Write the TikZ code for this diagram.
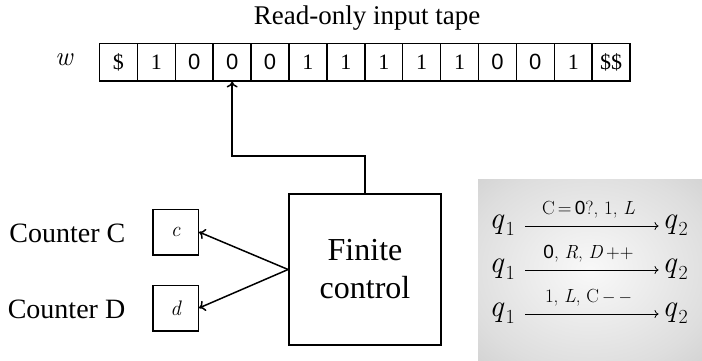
\documentclass[tikz,border=0pt]{standalone}
\usepackage{fontspec}
\newfontfamily\serifbig{Liberation Serif}
\newfontfamily\zerofont{Liberation Sans}
\usetikzlibrary{arrows.meta}
\newcommand\zr{{\zerofont 0}}
% state name with a lowered index, set in text italics so that it scales freely
\newcommand\stname[1]{\textit{q}\kern0.04em\raisebox{-0.22em}{\fontsize{20}{20}\selectfont #1}}
\pgfdeclareradialshading{panelglow}{\pgfpoint{0bp}{0bp}}{color(0bp)=(gray!5); color(28bp)=(gray!26); color(50bp)=(gray!48)}
\begin{document}
\begin{tikzpicture}[x=1pt,y=-1pt,line width=1.5pt,
  cell/.style={draw, minimum width=37.9pt, minimum height=37.5pt, inner sep=0pt,
    font=\serifbig\fontsize{22}{22}\selectfont},
  cbox/.style={draw, minimum size=45.5pt, inner sep=0pt, font=\fontsize{21}{21}\selectfont\itshape},
  bigtext/.style={font=\serifbig\fontsize{28}{28}\selectfont, inner sep=0pt},
  ctrl/.style={draw, line width=1.8pt, minimum width=152pt, minimum height=151pt, align=center,
    font=\serifbig\fontsize{32}{38}\selectfont},
  ptr/.style={-{To[length=6pt,width=11pt]}},
  qstate/.style={font=\fontsize{31}{31}\selectfont, inner sep=1pt, text height=0.5em, text depth=0pt},
  tarrow/.style={line width=0.8pt, -{To[length=4pt,width=8pt]}, shorten <=9pt, shorten >=2pt},
  tlabel/.style={font=\fontsize{19}{19}\selectfont, inner sep=0pt, anchor=base}]
\useasboundingbox (0,0) rectangle (702,360);

% title and tape
\node[font=\serifbig\fontsize{27}{27}\selectfont, anchor=base, inner sep=0pt] (title) at (367,24) {Read-only input tape};
\node[font=\fontsize{27}{27}\selectfont\itshape, inner sep=0pt] (w) at (64,60) {w};
\foreach \s [count=\i] in {\$,1,\zr,\zr,\zr,1,1,1,1,1,\zr,\zr,1,{\$\$}}
  \node[cell] (t\i) at ({99.5+37.9*(\i-0.5)},62) {\s};

% finite control and read head
\node[ctrl] (fc) at (365,269.5) {Finite\\control};
\draw[ptr] (fc.north) -- ++(0,-37) -| (t4.south);

% counters
\node[cbox] (cc) at (175.5,232) {c};
\node[cbox] (cd) at (175.5,308) {d};
\node[bigtext, anchor=east] (lc) at (126,233) {Counter C};
\node[bigtext, anchor=east] (ld) at (126,309) {Counter D};
\draw[ptr] (fc.west) -- (cc.east);
\draw[ptr] (fc.west) -- (cd.east);

% transition examples
\fill[shading=panelglow] (478,179) rectangle (702,360);
\foreach \r/\y/\lab in {a/226/{C\,=\,\zr?,\ 1,\ \textit{L}}, b/270/{\zr,\ \textit{R},\ \textit{D}\,++}, c/314/{1,\ \textit{L},\ C\,$-\mkern3mu-$}} {
  \node[qstate] (p\r) at (502,\y) {\stname{1}};
  \node[qstate] (s\r) at (675,\y) {\stname{2}};
  \draw[tarrow] (p\r.east) -- (s\r.west)
    node[tlabel, midway, yshift=12pt] {\lab};
}
\end{tikzpicture}
\end{document}
